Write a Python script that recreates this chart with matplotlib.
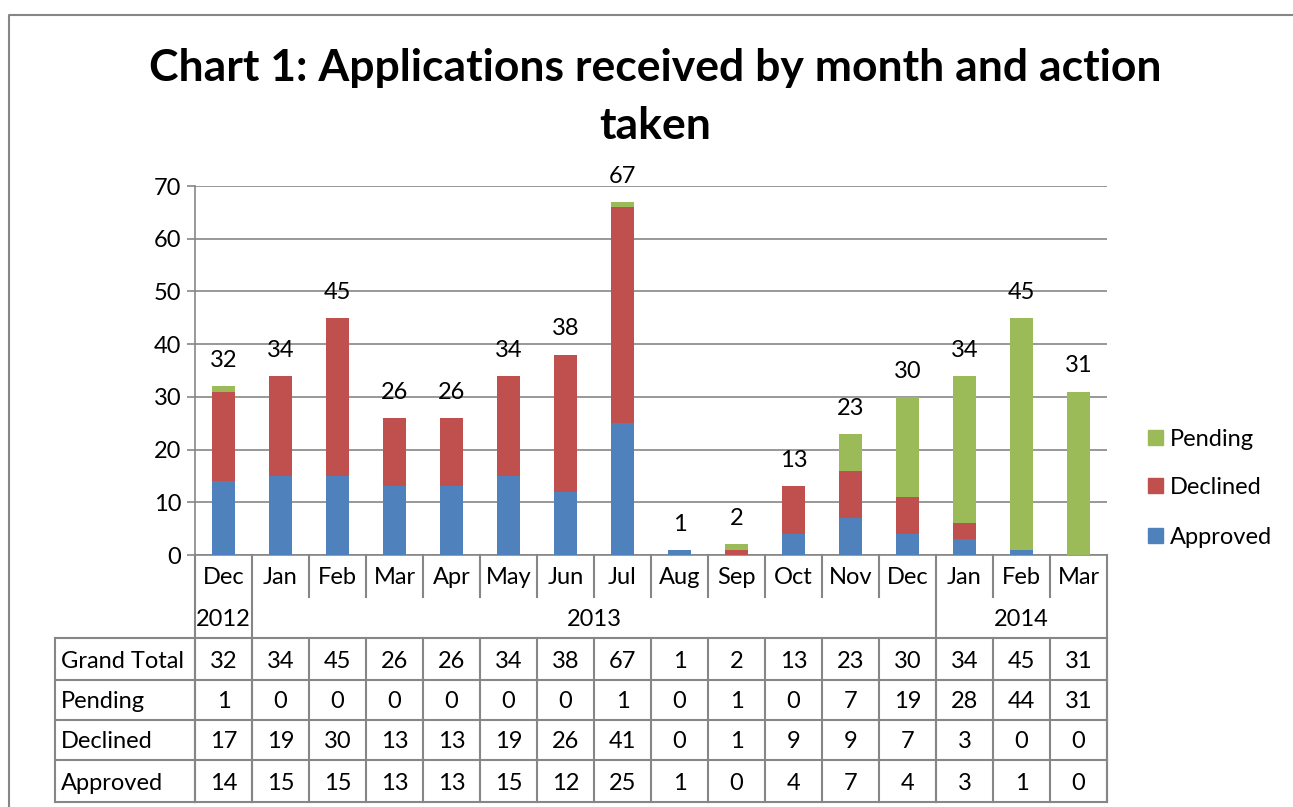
import matplotlib.pyplot as plt
import matplotlib.transforms as mtransforms
from matplotlib.lines import Line2D
from matplotlib.patches import Rectangle

plt.rcParams['font.family'] = ['Lato', 'DejaVu Sans']

months = ['Dec', 'Jan', 'Feb', 'Mar', 'Apr', 'May', 'Jun', 'Jul',
          'Aug', 'Sep', 'Oct', 'Nov', 'Dec', 'Jan', 'Feb', 'Mar']
years = ['2012', '2013', '2014']
year_spans = [(0, 1), (1, 13), (13, 16)]
pending = [1, 0, 0, 0, 0, 0, 0, 1, 0, 1, 0, 7, 19, 28, 44, 31]
declined = [17, 19, 30, 13, 13, 19, 26, 41, 0, 1, 9, 9, 7, 3, 0, 0]
approved = [14, 15, 15, 13, 13, 15, 12, 25, 1, 0, 4, 7, 4, 3, 1, 0]
totals = [32, 34, 45, 26, 26, 34, 38, 67, 1, 2, 13, 23, 30, 34, 45, 31]

c_app, c_dec, c_pen = '#4F81BD', '#C0504D', '#9BBB59'
grey = '#868686'
W, H = 1293, 807
FS = 17
DY = 2  # small nudge down for text centres


def fy(y):
    return 1 - y / H


def fx(x):
    return x / W


fig = plt.figure(figsize=(W / 100, H / 100), dpi=100)
ax = fig.add_axes([fx(195), fy(555), fx(1107) - fx(195), (555 - 186) / H])

x = list(range(len(months)))
bottom2 = [a + d for a, d in zip(approved, declined)]
ax.bar(x, approved, width=0.4, color=c_app, label='Approved', zorder=3)
ax.bar(x, declined, width=0.4, bottom=approved, color=c_dec, label='Declined', zorder=3)
ax.bar(x, pending, width=0.4, bottom=bottom2, color=c_pen, label='Pending', zorder=3)

for i, t in enumerate(totals):
    ax.annotate(str(t), (i, t), xytext=(0, 18.5), textcoords='offset points',
                ha='center', va='center', fontsize=FS)

ax.set_xlim(-0.5, len(months) - 0.5)
ax.set_ylim(0, 70)
ax.set_yticks(range(0, 71, 10))
ax.yaxis.grid(True, color=grey, lw=1.2, zorder=0)
ax.tick_params(axis='y', labelsize=FS, length=6, color=grey, width=1.2, pad=4)
ax.set_xticks([])
for s in ['top', 'right']:
    ax.spines[s].set_visible(False)
ax.spines['left'].set_color(grey)
ax.spines['bottom'].set_color(grey)
ax.spines['left'].set_linewidth(1.2)
ax.spines['bottom'].set_linewidth(1.2)

# category / table area below the axis
bt = mtransforms.blended_transform_factory(ax.transData, fig.transFigure)
lkw = dict(color=grey, lw=1.5, transform=bt, clip_on=False)
row_y = [638, 680, 720, 760, 802]
rows = [('Grand Total', totals), ('Pending', pending),
        ('Declined', declined), ('Approved', approved)]

for i, m in enumerate(months):
    fig.text(i, fy(576 + DY), m, transform=bt, ha='center', va='center', fontsize=FS)
for k in range(len(months) + 1):
    xb = k - 0.5
    full = any(xb == s - 0.5 for s, e in year_spans) or k == len(months)
    fig.add_artist(Line2D([xb, xb], [fy(555), fy(802 if full else 597)], **lkw))
for yr, (s, e) in zip(years, year_spans):
    fig.text((s + e - 1) / 2, fy(617 + DY), yr, transform=bt, ha='center', va='center', fontsize=FS)
for k in range(len(months) + 1):
    xb = k - 0.5
    fig.add_artist(Line2D([xb, xb], [fy(638), fy(802)], **lkw))

for y in row_y:
    fig.add_artist(Line2D([fx(55), fx(195)], [fy(y), fy(y)], color=grey, lw=1.5))
    fig.add_artist(Line2D([-0.5, len(months) - 0.5], [fy(y), fy(y)], **lkw))
fig.add_artist(Line2D([fx(55), fx(55)], [fy(638), fy(802)], color=grey, lw=1.5))

for r, (name, vals) in enumerate(rows):
    yc = (row_y[r] + row_y[r + 1]) / 2 + DY
    fig.text(fx(61), fy(yc), name, ha='left', va='center', fontsize=FS)
    for i, v in enumerate(vals):
        fig.text(i, fy(yc), str(v), transform=bt, ha='center', va='center', fontsize=FS)

# legend
for lab, col, yc in [('Pending', c_pen, 437), ('Declined', c_dec, 485), ('Approved', c_app, 535)]:
    fig.add_artist(Rectangle((fx(1148), fy(yc + 7.5)), 15 / W, 15 / H, color=col,
                             transform=fig.transFigure))
    fig.text(fx(1170), fy(yc + DY), lab, ha='left', va='center', fontsize=FS)

fig.text(fx(655), fy(68), 'Chart 1: Applications received by month and action',
         ha='center', va='center', fontsize=32, fontweight='bold')
fig.text(fx(655), fy(126), 'taken', ha='center', va='center', fontsize=32, fontweight='bold')

# outer chart border
fig.add_artist(Line2D([fx(9), fx(9), 1], [0, fy(15), fy(15)], color=grey, lw=1.5))

fig.savefig('out.png', dpi=100)
